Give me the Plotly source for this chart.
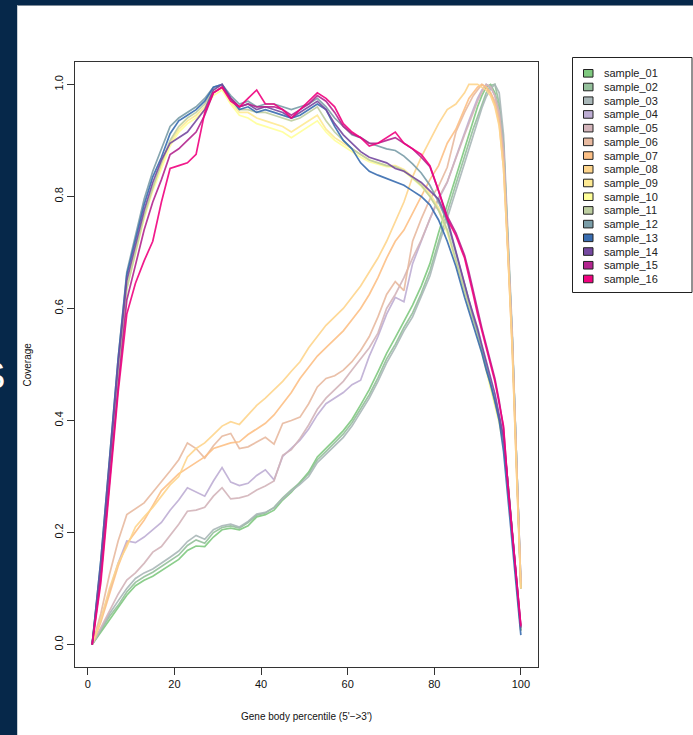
import plotly.graph_objects as go

# Gene body percentiles at which values were read
PCT = list(range(1, 88, 2)) + list(range(88, 101))

SAMPLES = ["sample_%02d" % i for i in range(1, 17)]
COLORS = ["#7FC97F", "#94C09B", "#A9B7B8", "#BEAED4", "#D3B4BA", "#E8BAA0",
          "#FDC086", "#FED58C", "#FEEA93", "#FFFF99", "#BDCEA1", "#7A9DA8",
          "#386CB0", "#7549A0", "#B3258F", "#F0027F"]

sample_01 = [0.0, 0.022, 0.045, 0.065, 0.088, 0.105, 0.115, 0.122, 0.132, 0.142,
             0.152, 0.168, 0.176, 0.175, 0.192, 0.205, 0.208, 0.205, 0.212, 0.228,
             0.232, 0.240, 0.258, 0.272, 0.290, 0.308, 0.335, 0.350, 0.366, 0.382,
             0.402, 0.428, 0.455, 0.487, 0.520, 0.548, 0.578, 0.606, 0.640, 0.680,
             0.735, 0.785, 0.835, 0.885, 0.910, 0.935, 0.960, 0.980, 0.995, 1.0,
             0.985, 0.955, 0.89, 0.72, 0.55, 0.33, 0.10]
sample_02 = [0.0, 0.025, 0.05, 0.07, 0.094, 0.111, 0.121, 0.129, 0.139, 0.149,
             0.160, 0.177, 0.187, 0.181, 0.200, 0.209, 0.212, 0.208, 0.218, 0.231,
             0.235, 0.245, 0.262, 0.276, 0.289, 0.305, 0.330, 0.345, 0.360, 0.376,
             0.396, 0.420, 0.446, 0.476, 0.510, 0.536, 0.566, 0.592, 0.627, 0.667,
             0.722, 0.772, 0.822, 0.872, 0.897, 0.921, 0.942, 0.965, 0.985, 0.998,
             1.0, 0.965, 0.895, 0.72, 0.55, 0.33, 0.10]
sample_03 = [0.0, 0.028, 0.055, 0.078, 0.10, 0.118, 0.128, 0.135, 0.145, 0.156,
             0.167, 0.184, 0.195, 0.188, 0.205, 0.212, 0.215, 0.210, 0.220, 0.233,
             0.236, 0.244, 0.260, 0.274, 0.286, 0.300, 0.325, 0.340, 0.355, 0.370,
             0.390, 0.414, 0.440, 0.470, 0.503, 0.530, 0.560, 0.585, 0.620, 0.658,
             0.712, 0.762, 0.812, 0.862, 0.887, 0.912, 0.935, 0.958, 0.978, 0.992,
             1.0, 0.985, 0.91, 0.73, 0.56, 0.33, 0.11]
sample_04 = [0.0, 0.045, 0.095, 0.145, 0.185, 0.182, 0.192, 0.205, 0.218, 0.240,
             0.258, 0.280, 0.272, 0.265, 0.292, 0.316, 0.290, 0.284, 0.288, 0.302,
             0.312, 0.294, 0.336, 0.350, 0.365, 0.385, 0.410, 0.430, 0.440, 0.450,
             0.464, 0.472, 0.515, 0.550, 0.590, 0.620, 0.612, 0.680, 0.720, 0.760,
             0.795, 0.825, 0.870, 0.915, 0.935, 0.955, 0.975, 0.990, 1.0, 0.995,
             0.98, 0.95, 0.88, 0.71, 0.55, 0.33, 0.11]
sample_05 = [0.0, 0.03, 0.06, 0.09, 0.115, 0.128, 0.145, 0.165, 0.175, 0.195,
             0.215, 0.238, 0.240, 0.245, 0.265, 0.280, 0.260, 0.262, 0.266, 0.276,
             0.283, 0.292, 0.338, 0.348, 0.368, 0.392, 0.420, 0.440, 0.455, 0.470,
             0.490, 0.510, 0.530, 0.556, 0.600, 0.625, 0.655, 0.690, 0.722, 0.760,
             0.798, 0.826, 0.870, 0.910, 0.930, 0.950, 0.970, 0.986, 1.0, 0.996,
             0.98, 0.95, 0.88, 0.71, 0.55, 0.33, 0.11]
sample_06 = [0.0, 0.055, 0.125, 0.185, 0.232, 0.243, 0.253, 0.272, 0.290, 0.310,
             0.330, 0.360, 0.350, 0.333, 0.355, 0.372, 0.377, 0.350, 0.353, 0.362,
             0.370, 0.358, 0.395, 0.400, 0.406, 0.430, 0.460, 0.475, 0.480, 0.490,
             0.505, 0.525, 0.550, 0.585, 0.625, 0.648, 0.632, 0.720, 0.760, 0.795,
             0.818, 0.852, 0.915, 0.950, 0.965, 0.980, 0.990, 1.0, 0.995, 0.985,
             0.97, 0.94, 0.87, 0.71, 0.54, 0.32, 0.11]
sample_07 = [0.0, 0.04, 0.09, 0.14, 0.18, 0.20, 0.222, 0.248, 0.275, 0.290,
             0.305, 0.315, 0.325, 0.335, 0.350, 0.355, 0.360, 0.362, 0.375, 0.385,
             0.395, 0.410, 0.430, 0.450, 0.475, 0.495, 0.515, 0.530, 0.545, 0.560,
             0.580, 0.600, 0.625, 0.655, 0.690, 0.720, 0.740, 0.770, 0.800, 0.830,
             0.855, 0.895, 0.920, 0.955, 0.975, 0.985, 0.995, 1.0, 0.995, 0.985,
             0.965, 0.93, 0.85, 0.70, 0.53, 0.31, 0.10]
sample_08 = [0.0, 0.045, 0.10, 0.145, 0.175, 0.210, 0.228, 0.245, 0.265, 0.285,
             0.300, 0.335, 0.350, 0.360, 0.375, 0.390, 0.398, 0.393, 0.410, 0.427,
             0.440, 0.455, 0.470, 0.488, 0.505, 0.530, 0.550, 0.570, 0.585, 0.600,
             0.620, 0.640, 0.665, 0.690, 0.720, 0.755, 0.790, 0.835, 0.870, 0.900,
             0.930, 0.955, 0.965, 0.985, 1.0, 1.0, 1.0, 0.995, 0.99, 0.98,
             0.96, 0.925, 0.85, 0.70, 0.53, 0.31, 0.10]
sample_09 = [0.0, 0.13, 0.31, 0.49, 0.64, 0.705, 0.765, 0.815, 0.855, 0.895,
             0.92, 0.935, 0.945, 0.96, 0.985, 0.995, 0.97, 0.95, 0.95, 0.94,
             0.935, 0.93, 0.925, 0.915, 0.925, 0.935, 0.945, 0.92, 0.905, 0.895,
             0.885, 0.875, 0.865, 0.86, 0.855, 0.855, 0.848, 0.835, 0.822, 0.805,
             0.78, 0.74, 0.685, 0.63, 0.605, 0.58, 0.555, 0.525, 0.495, 0.465,
             0.435, 0.40, 0.36, 0.29, 0.2, 0.11, 0.025]
sample_10 = [0.0, 0.13, 0.30, 0.48, 0.635, 0.70, 0.76, 0.81, 0.85, 0.89,
             0.915, 0.93, 0.94, 0.955, 0.98, 0.99, 0.965, 0.945, 0.94, 0.93,
             0.925, 0.92, 0.915, 0.905, 0.915, 0.925, 0.935, 0.915, 0.90, 0.89,
             0.88, 0.87, 0.862, 0.858, 0.853, 0.852, 0.845, 0.832, 0.818, 0.80,
             0.775, 0.735, 0.68, 0.625, 0.60, 0.575, 0.55, 0.52, 0.49, 0.46,
             0.43, 0.395, 0.355, 0.285, 0.2, 0.11, 0.025]
sample_11 = [0.0, 0.13, 0.30, 0.48, 0.635, 0.70, 0.765, 0.815, 0.86, 0.90,
             0.925, 0.94, 0.95, 0.965, 0.99, 1.0, 0.975, 0.955, 0.955, 0.95,
             0.95, 0.945, 0.94, 0.935, 0.94, 0.95, 0.96, 0.935, 0.915, 0.90,
             0.885, 0.875, 0.865, 0.86, 0.855, 0.853, 0.846, 0.833, 0.82, 0.80,
             0.775, 0.74, 0.685, 0.63, 0.605, 0.58, 0.555, 0.525, 0.495, 0.465,
             0.435, 0.40, 0.36, 0.29, 0.2, 0.11, 0.025]
sample_12 = [0.0, 0.15, 0.33, 0.51, 0.665, 0.73, 0.795, 0.845, 0.885, 0.925,
             0.94, 0.95, 0.96, 0.975, 0.995, 1.0, 0.98, 0.965, 0.97, 0.96,
             0.965, 0.965, 0.96, 0.955, 0.96, 0.965, 0.975, 0.96, 0.94, 0.925,
             0.91, 0.905, 0.895, 0.89, 0.885, 0.882, 0.872, 0.858, 0.842, 0.82,
             0.79, 0.755, 0.70, 0.645, 0.615, 0.585, 0.56, 0.53, 0.50, 0.47,
             0.44, 0.405, 0.365, 0.29, 0.2, 0.11, 0.025]
sample_13 = [0.0, 0.15, 0.33, 0.51, 0.66, 0.72, 0.785, 0.835, 0.87, 0.912,
             0.935, 0.945, 0.955, 0.97, 0.995, 1.0, 0.975, 0.955, 0.96, 0.95,
             0.955, 0.95, 0.945, 0.94, 0.945, 0.955, 0.965, 0.955, 0.925, 0.90,
             0.885, 0.86, 0.845, 0.838, 0.832, 0.826, 0.82, 0.81, 0.80, 0.785,
             0.758, 0.72, 0.675, 0.62, 0.595, 0.57, 0.545, 0.52, 0.49, 0.465,
             0.435, 0.40, 0.345, 0.265, 0.18, 0.10, 0.017]
sample_14 = [0.0, 0.14, 0.32, 0.50, 0.65, 0.715, 0.775, 0.825, 0.865, 0.895,
             0.905, 0.915, 0.935, 0.955, 0.99, 1.0, 0.975, 0.96, 0.965, 0.955,
             0.96, 0.955, 0.95, 0.94, 0.95, 0.96, 0.97, 0.955, 0.93, 0.91,
             0.895, 0.88, 0.87, 0.865, 0.86, 0.85, 0.845, 0.835, 0.825, 0.81,
             0.795, 0.76, 0.70, 0.645, 0.615, 0.59, 0.565, 0.535, 0.505, 0.478,
             0.448, 0.41, 0.37, 0.29, 0.2, 0.115, 0.03]
sample_15 = [0.0, 0.12, 0.29, 0.46, 0.615, 0.68, 0.74, 0.79, 0.83, 0.875,
             0.885, 0.90, 0.915, 0.945, 0.985, 0.995, 0.975, 0.96, 0.965, 0.96,
             0.96, 0.96, 0.955, 0.945, 0.955, 0.965, 0.98, 0.97, 0.95, 0.925,
             0.912, 0.905, 0.895, 0.895, 0.9, 0.905, 0.895, 0.885, 0.87, 0.853,
             0.81, 0.765, 0.735, 0.695, 0.665, 0.63, 0.595, 0.565, 0.535, 0.505,
             0.475, 0.435, 0.385, 0.285, 0.2, 0.115, 0.032]
sample_16 = [0.0, 0.11, 0.28, 0.45, 0.59, 0.645, 0.685, 0.72, 0.79, 0.85,
             0.855, 0.86, 0.875, 0.95, 0.985, 0.995, 0.97, 0.96, 0.975, 0.99,
             0.965, 0.965, 0.955, 0.94, 0.955, 0.97, 0.985, 0.975, 0.96, 0.93,
             0.915, 0.905, 0.89, 0.895, 0.905, 0.915, 0.895, 0.885, 0.875, 0.855,
             0.81, 0.76, 0.73, 0.69, 0.66, 0.625, 0.59, 0.56, 0.53, 0.50,
             0.47, 0.43, 0.39, 0.285, 0.2, 0.115, 0.034]

SERIES = [sample_01, sample_02, sample_03, sample_04, sample_05, sample_06,
          sample_07, sample_08, sample_09, sample_10, sample_11, sample_12,
          sample_13, sample_14, sample_15, sample_16]

X_TICKS = [0, 20, 40, 60, 80, 100]
Y_TICKS = [0.0, 0.2, 0.4, 0.6, 0.8, 1.0]

W, H = 693, 735
L, R, T, B = 75, 538, 62, 667  # plot frame in pixels
FONT = "Liberation Sans, Arial, Helvetica, sans-serif"
NAVY = "#06284A"


def px(xp):
    return (xp - L) / (R - L)


def py(yp):
    return (B - yp) / (B - T)


fig = go.Figure()
for name, col, vals in zip(SAMPLES, COLORS, SERIES):
    fig.add_trace(go.Scatter(x=PCT, y=vals, mode="lines", name=name,
                             line=dict(color=col, width=1.7), opacity=0.9,
                             showlegend=False, hoverinfo="skip"))

shapes = []
annotations = []
# navy slide frame (top strip and left strip)
shapes.append(dict(type="rect", xref="paper", yref="paper", x0=px(0), x1=px(17),
                   y0=py(H), y1=py(0), fillcolor=NAVY, line=dict(width=0), layer="below"))
shapes.append(dict(type="rect", xref="paper", yref="paper", x0=px(0), x1=px(W),
                   y0=py(5), y1=py(0), fillcolor=NAVY, line=dict(width=0), layer="below"))
shapes.append(dict(type="line", xref="paper", yref="paper", x0=px(17), x1=px(W),
                   y0=py(5.5), y1=py(5.5), line=dict(color="#7f8c99", width=1)))
shapes.append(dict(type="line", xref="paper", yref="paper", x0=px(17.5), x1=px(17.5),
                   y0=py(H), y1=py(5.5), line=dict(color="#c9d0d6", width=1)))
annotations.append(dict(text="S", xref="paper", yref="paper", x=px(7), y=py(376),
                        xanchor="right", yanchor="middle", showarrow=False,
                        font=dict(family=FONT, size=38, color="white")))

# legend box drawn as in the original base-graphics legend
LEG_L, LEG_R, LEG_T, LEG_B = 572.5, 692, 57.5, 292.5
ROW0, ROW_STEP = 73.3, 13.71
shapes.append(dict(type="rect", xref="paper", yref="paper", x0=px(LEG_L), x1=px(LEG_R),
                   y0=py(LEG_B), y1=py(LEG_T), line=dict(color="#222", width=1),
                   fillcolor="white"))
for i, (name, col) in enumerate(zip(SAMPLES, COLORS)):
    yc = ROW0 + ROW_STEP * i
    shapes.append(dict(type="rect", xref="paper", yref="paper", x0=px(583.5), x1=px(593),
                       y0=py(yc + 3.8), y1=py(yc - 3.8), fillcolor=col,
                       line=dict(color="#222", width=1)))
    annotations.append(dict(text=name, xref="paper", yref="paper", x=px(601.5), y=py(yc),
                            xanchor="left", yanchor="middle", showarrow=False,
                            font=dict(family=FONT, size=11, color="#222")))

# axis titles
annotations.append(dict(text="Gene body percentile (5'\u2212>3')", xref="paper", yref="paper",
                        x=0.5, y=py(716), xanchor="center", yanchor="middle", showarrow=False,
                        font=dict(family=FONT, size=10, color="#111")))
annotations.append(dict(text="Coverage", xref="paper", yref="paper", textangle=-90,
                        x=px(27), y=0.5, xanchor="center", yanchor="middle", showarrow=False,
                        font=dict(family=FONT, size=10, color="#111")))

fig.update_layout(
    width=W, height=H, autosize=False,
    margin=dict(l=L, r=W - R, t=T, b=H - B, pad=0),
    paper_bgcolor="white", plot_bgcolor="white",
    showlegend=False, hovermode=False,
    shapes=shapes, annotations=annotations,
    font=dict(family=FONT, size=11, color="#111"),
)
fig.update_xaxes(range=[1 - 0.04 * 99, 100 + 0.04 * 99], tickvals=X_TICKS,
                 showgrid=False, zeroline=False, showline=True, mirror=True,
                 linecolor="#333", linewidth=1, ticks="outside", ticklen=7,
                 tickcolor="#333", tickfont=dict(family=FONT, size=11, color="#111"))
fig.update_yaxes(range=[-0.04, 1.04], tickvals=Y_TICKS, tickformat=".1f",
                 tickangle=-90, showgrid=False, zeroline=False, showline=True,
                 mirror=True, linecolor="#333", linewidth=1, ticks="outside",
                 ticklen=7, tickcolor="#333",
                 tickfont=dict(family=FONT, size=11, color="#111"))

fig.write_html(
    "out.html",
    config={"displayModeBar": False},
    post_script="document.body.style.margin='0';document.body.style.padding='0';"
                "document.body.style.overflow='hidden';",
)
